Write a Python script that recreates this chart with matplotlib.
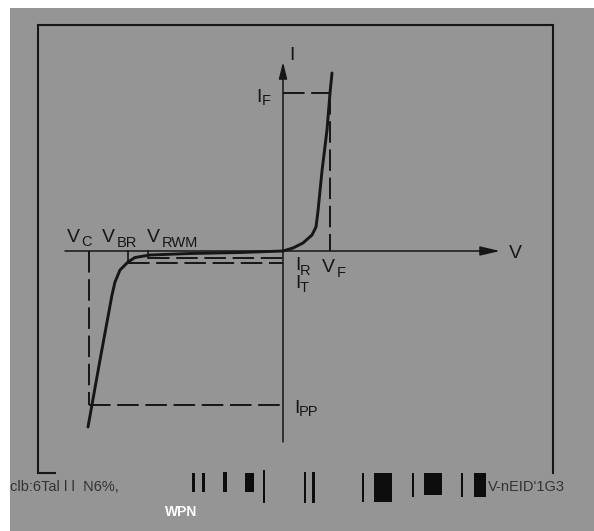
import matplotlib
matplotlib.use("Agg")
import matplotlib.pyplot as plt
from matplotlib.patches import Rectangle

plt.rcParams["font.family"] = ["Liberation Sans", "DejaVu Sans"]
plt.rcParams["lines.scale_dashes"] = False

INK = "#161616"
GRAY = "#959595"

# Schematic I-V curve of a TVS diode, origin at the axis crossing
fwd_v = [0, 10, 20, 29, 33, 35, 39, 44, 47, 49]
fwd_i = [0, 3, 8, 16, 24, 40, 80, 121, 158, 178]
rev_v = [0, -43, -93, -133, -148, -155, -163, -168, -171, -183, -195]
rev_i = [0, -1.5, -2.5, -4, -6.5, -11, -19, -31, -44, -109, -176]

# characteristic points
v_c, v_br, v_rwm, v_f = -194, -155, -135, 47
i_pp, i_t, i_r, i_f = -154, -12, -7, 158

# labels: main letter, subscript, then (x, baseline) of each in image px
lab_main = ["I", "V", "I", "V", "V", "V", "I", "I", "V", "I"]
lab_sub = ["", "", "F", "C", "BR", "RWM", "R", "T", "F", "PP"]
lab_xy = [(289, 60), (509, 258), (256, 102), (67, 242), (102, 242),
          (147, 242), (295, 270), (295, 288), (322, 272), (294, 413)]
sub_xy = [None, None, (262, 105), (81, 246), (117, 247),
          (162, 247), (300, 275), (300, 292), (337, 277), (299, 416)]

# scanner junk along the bottom edge: left x, width, top y, bottom y (image px)
junk_x = [192, 202, 223, 245, 263, 304, 312, 362, 374, 412, 424, 461, 474]
junk_w = [3, 3, 4, 9, 2, 2, 3, 2, 18, 2, 18, 2, 12]
junk_top = [473, 473, 472, 473, 470, 472, 472, 473, 473, 473, 473, 473, 473]
junk_bot = [492, 492, 492, 492, 503, 503, 503, 502, 502, 497, 495, 497, 497]

X0, Y0 = 283, 251   # axis crossing in image pixels


def px(x, y):
    return x - X0, Y0 - y


fig = plt.figure(figsize=(5.94, 5.31), dpi=100, facecolor="white")
ax = fig.add_axes([0, 0, 1, 1])
ax.set_xlim(-X0, 594 - X0)
ax.set_ylim(Y0 - 531, Y0)
ax.axis("off")

# gray page
gx, gy = px(10, 531)
ax.add_patch(Rectangle((gx, gy), 584, 523, facecolor=GRAY, edgecolor="none", zorder=0))

# frame: bottom edge is lost in the scan except a stub at the left corner
corners = [(55, 473), (38, 473), (38, 25), (553, 25), (553, 473)]
ax.plot([px(*c)[0] for c in corners], [px(*c)[1] for c in corners],
        color=INK, lw=1.5, solid_joinstyle="miter")

# axes with arrows
ax.annotate("", xy=px(500, 251), xytext=px(65, 251),
            arrowprops=dict(arrowstyle="-|>,head_length=1.2,head_width=0.28",
                            mutation_scale=10, color=INK, lw=1.1, shrinkA=0, shrinkB=0))
ax.annotate("", xy=px(283, 62), xytext=px(283, 442),
            arrowprops=dict(arrowstyle="-|>,head_length=1.0,head_width=0.25",
                            mutation_scale=10, color=INK, lw=1.1, shrinkA=0, shrinkB=0))

dash = dict(color=INK, lw=1.4, linestyle=(0, (15.5, 4.8)))
ax.plot([0, v_f], [i_f, i_f], **dash)
ax.plot([v_f, v_f], [i_f, 0], **dash)
ax.plot([v_c, 0], [i_pp, i_pp], **dash)
ax.plot([v_c, v_c], [0, i_pp], **dash)
ax.plot([v_br, 0], [i_t, i_t], **dash)
ax.plot([v_rwm, 0], [i_r, i_r], **dash)
ax.plot([v_br, v_br], [0, i_t], color=INK, lw=1.2)
ax.plot([v_rwm, v_rwm], [0, i_r], color=INK, lw=1.2)

ax.plot(fwd_v, fwd_i, color=INK, lw=2.1, solid_capstyle="round")
ax.plot(rev_v, rev_i, color=INK, lw=2.1, solid_capstyle="round")

# labels
for m, s, mxy, sxy in zip(lab_main, lab_sub, lab_xy, sub_xy):
    ax.text(*px(*mxy), m, color=INK, fontsize=14, ha="left", va="baseline")
    if s:
        ax.text(*px(*sxy), s, color=INK, fontsize=10.5, ha="left", va="baseline")

# bottom junk
for x, w, t, b in zip(junk_x, junk_w, junk_top, junk_bot):
    lx, ly = px(x, b)
    ax.add_patch(Rectangle((lx, ly), w, b - t, facecolor="#0d0d0d", edgecolor="none", zorder=2))
ax.text(*px(10, 491), "clb:6Tal l l  N6%,", color="#333333", fontsize=10.5,
        ha="left", va="baseline")
ax.text(*px(488, 491), "V-nEID'1G3", color="#333333", fontsize=10.5,
        ha="left", va="baseline")
ax.text(*px(165, 516), "WPN", color="white", fontsize=10, fontweight="bold",
        ha="left", va="baseline")

plt.savefig("out.png", dpi=100)
